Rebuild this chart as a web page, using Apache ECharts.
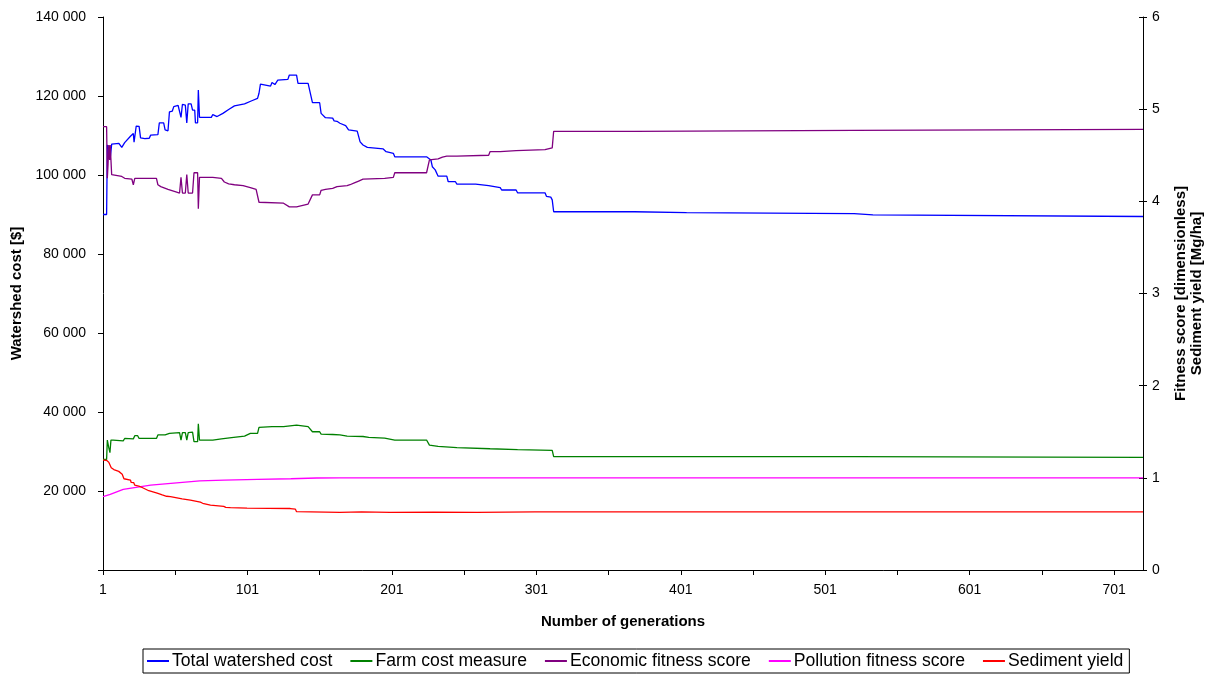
<!DOCTYPE html>
<html>
<head>
<meta charset="utf-8">
<title>Watershed optimisation by generation</title>
<script src="https://cdn.jsdelivr.net/npm/echarts@6/dist/echarts.min.js"></script>
<style>
  html, body { margin: 0; padding: 0; background: #fff; }
  #chart { width: 1213px; height: 675px; }
</style>
</head>
<body>
<div id="chart"></div>
<script>
// Generation axis ticks
const xTickValues = [1, 51, 101, 151, 201, 251, 301, 351, 401, 451, 501, 551, 601, 651, 701];
const xLabelValues = [1, 101, 201, 301, 401, 501, 601, 701];

// Series: [generation, value]
// Total watershed cost [$] (left axis)
const totalWatershedCost = [
  [1, 90000], [3.5, 90000], [4, 107600], [5, 106500], [6, 104200], [7, 107800], [12, 108000],
  [14, 107000], [16, 108200], [20, 109800], [22, 110500], [22.5, 108300], [24, 112400], [26, 112300],
  [27, 109400], [30, 109200], [33, 109300], [34, 110100], [39, 110200], [40, 113200], [43, 113200],
  [44, 111400], [46, 111200], [47, 116000], [49, 116200], [50, 117300], [53, 117600], [54, 117800],
  [55, 114600], [56, 117900], [58, 117700], [59, 113200], [60, 118000], [62, 118000], [63, 116400],
  [64.5, 116400], [65, 113200], [66.5, 113200], [67, 121500], [67.8, 114600], [76, 114600],
  [77, 115300], [78, 114800], [80, 114800], [84, 115600], [88, 116600], [92, 117500], [99, 118000],
  [104, 118800], [108, 119400], [109, 120700], [110, 123000], [111, 122500], [117, 122500],
  [118, 123400], [120, 122900], [122, 124000], [129, 124200], [130, 125300], [135, 125300],
  [136, 123200], [143, 123200], [144, 122800], [146, 118300], [151, 118300], [152, 115600],
  [155, 114500], [160, 114400], [161, 113700], [163, 113600], [165, 113100], [169, 112500],
  [171, 111400], [177, 111100], [179, 108400], [181, 107600], [184, 107000], [185, 106800],
  [195, 106600], [197, 105900], [202, 105500], [203, 104600], [225, 104600], [226, 104300],
  [228, 103800], [229, 102100], [231, 101300], [233, 99700], [239, 99700], [240, 98300],
  [245, 98300], [246, 97700], [259, 97700], [260, 97300], [268, 97300], [269, 96800], [276, 96800],
  [277, 96200], [287, 96200], [288, 95500], [307, 95500], [308, 94600], [311, 94400], [312, 93700],
  [313, 90700], [369, 90700], [370, 90500], [405, 90500], [406, 90200], [521, 90200], [522, 89900],
  [534, 89900], [535, 89500], [721, 89500]
];

// Farm cost measure [$] (left axis)
const farmCostMeasure = [
  [1, 28000], [3.5, 28000], [4, 32900], [5, 31000], [5.8, 29700], [6.5, 32900], [8, 32900],
  [9, 32700], [15, 32700], [16, 33300], [22, 33200], [23, 34000], [25, 34000], [26, 33300],
  [38, 33300], [39, 34200], [44, 34200], [47, 34600], [54, 34800], [55, 32900], [56, 34800],
  [58, 34800], [59, 32900], [60, 34800], [63, 34900], [64, 32500], [66.5, 32500], [67, 37000],
  [67.8, 32900], [77, 32900], [77.5, 33200], [78, 32900], [83, 33200], [90, 33500], [99, 33900],
  [103, 34600], [108, 34600], [109, 36100], [118, 36300], [126, 36300], [127, 36700], [135, 36700],
  [136, 36300], [143, 36300], [144, 35900], [146, 35000], [151, 35000], [152, 34400], [160, 34300],
  [165, 34200], [170, 33900], [181, 33800], [185, 33600], [196, 33400], [203, 32900], [225, 32900],
  [227, 31600], [233, 31300], [246, 31000], [269, 30700], [288, 30500], [312, 30300], [313, 28700],
  [521, 28700], [522, 28500], [721, 28500]
];

// Economic fitness score [dimensionless] (right axis)
const economicFitnessScore = [
  [1, 4.81], [3.5, 4.81], [4, 4.25], [4.5, 4.40], [5, 4.61], [5.6, 4.45], [6, 4.61], [6.6, 4.61],
  [7, 4.29], [14, 4.27], [16, 4.25], [21, 4.24], [22, 4.18], [23, 4.25], [26, 4.25], [38, 4.25],
  [39, 4.18], [41, 4.16], [46, 4.13], [52, 4.10], [54, 4.09], [55, 4.26], [56, 4.09], [58, 4.09],
  [59, 4.29], [60, 4.09], [63, 4.09], [64, 4.31], [66.5, 4.31], [67, 3.92], [67.8, 4.26], [77, 4.26],
  [78, 4.25], [83, 4.25], [85, 4.21], [88, 4.19], [92, 4.18], [98, 4.17], [103, 4.15], [107, 4.13],
  [108, 4.12], [109, 3.99], [126, 3.98], [127, 3.96], [130, 3.94], [135, 3.94], [136, 3.96],
  [143, 3.97], [144, 3.99], [146, 4.07], [151, 4.07], [152, 4.12], [155, 4.13], [160, 4.14],
  [163, 4.16], [170, 4.17], [172, 4.18], [175, 4.20], [178, 4.22], [181, 4.24], [196, 4.25],
  [197, 4.26], [202, 4.26], [203, 4.31], [225, 4.31], [227, 4.45], [233, 4.46], [236, 4.48],
  [239, 4.49], [246, 4.49], [247, 4.50], [268, 4.50], [269, 4.54], [276, 4.54], [277, 4.55],
  [287, 4.55], [288, 4.56], [307, 4.56], [308, 4.58], [312, 4.58], [313, 4.76], [369, 4.76],
  [370, 4.77], [521, 4.77], [522, 4.78], [721, 4.78]
];

// Pollution fitness score [dimensionless] (right axis)
const pollutionFitnessScore = [
  [1, 0.795], [6, 0.82], [15, 0.875], [25, 0.90], [34, 0.92], [48, 0.94], [68, 0.966], [85, 0.976],
  [108, 0.984], [131, 0.99], [149, 0.998], [165, 1.0], [721, 1.0]
];

// Sediment yield [Mg/ha] (right axis)
const sedimentYield = [
  [1, 1.193], [3.4, 1.19], [5, 1.17], [6.2, 1.16], [6.7, 1.11], [8.5, 1.09], [11.9, 1.07],
  [12.5, 1.056], [14.3, 1.04], [15.5, 0.99], [16.6, 0.976], [20, 0.976], [20.5, 0.95], [22.3, 0.947],
  [23, 0.92], [25.8, 0.911], [26.5, 0.897], [28.1, 0.895], [29, 0.875], [32.7, 0.86], [33.5, 0.84],
  [38.5, 0.835], [39.5, 0.825], [42, 0.814], [45, 0.80], [47.7, 0.795], [48.5, 0.778], [55.8, 0.772],
  [57, 0.763], [61.5, 0.758], [62.5, 0.741], [68.4, 0.736], [70, 0.724], [75.4, 0.705], [76.5, 0.694],
  [84.6, 0.69], [86, 0.68], [89.2, 0.676], [100.7, 0.672], [102, 0.669], [130.7, 0.667], [134.2, 0.66],
  [135, 0.633], [165, 0.626], [180, 0.63], [200, 0.625], [230, 0.628], [260, 0.626], [300, 0.63],
  [721, 0.63]
];

const FONT = 'Liberation Sans, Arial, sans-serif';
const thousands = v => String(v).replace(/\B(?=(\d{3})+(?!\d))/g, ' ');

const chart = echarts.init(document.getElementById('chart'), null, { renderer: 'canvas' });

const lineSeries = (name, data, color, yAxisIndex) => ({
  name, type: 'line', data, yAxisIndex,
  symbol: 'none', smooth: false, animation: false,
  lineStyle: { color, width: 1.3 },
  itemStyle: { color }
});

chart.setOption({
  animation: false,
  backgroundColor: '#fff',
  grid: { left: 103, right: 70, top: 17, bottom: 105, containLabel: false },
  legend: {
    left: 143, top: 649,
    padding: [3, 6, 3, 4],
    itemGap: 18, itemWidth: 22, itemHeight: 2,
    icon: 'rect',
    borderColor: '#000', borderWidth: 1,
    textStyle: { fontFamily: FONT, fontSize: 17.6, color: '#000', padding: [0, 0, 0, -2] },
    data: ['Total watershed cost', 'Farm cost measure', 'Economic fitness score',
           'Pollution fitness score', 'Sediment yield']
  },
  xAxis: {
    type: 'value', min: 1, max: 721,
    name: 'Number of generations', nameLocation: 'middle', nameGap: 44,
    nameTextStyle: { fontFamily: FONT, fontSize: 15, fontWeight: 'bold', color: '#000' },
    axisLine: { show: true, onZero: false, lineStyle: { color: '#000', width: 1 } },
    axisTick: { show: true, inside: false, length: 5, customValues: xTickValues,
                lineStyle: { color: '#000' } },
    axisLabel: { show: true, customValues: xLabelValues, margin: 13,
                 fontFamily: FONT, fontSize: 14, color: '#000' },
    splitLine: { show: false }
  },
  yAxis: [
    {
      type: 'value', position: 'left', min: 0, max: 140000, interval: 20000,
      name: 'Watershed cost [$]', nameLocation: 'middle', nameGap: 77, nameRotate: 90,
      nameTextStyle: { fontFamily: FONT, fontSize: 15, fontWeight: 'bold', color: '#000' },
      axisLine: { show: true, lineStyle: { color: '#000', width: 1 } },
      axisTick: { show: true, inside: false, length: 5, lineStyle: { color: '#000' } },
      axisLabel: { margin: 17, fontFamily: FONT, fontSize: 14, color: '#000',
                   formatter: v => (v === 0 ? '' : thousands(v)) },
      splitLine: { show: false }
    },
    {
      type: 'value', position: 'right', min: 0, max: 6, interval: 1,
      name: 'Fitness score [dimensionless]\nSediment yield [Mg/ha]',
      nameLocation: 'middle', nameGap: 30, nameRotate: 90,
      nameTextStyle: { fontFamily: FONT, fontSize: 15, fontWeight: 'bold', color: '#000',
                       lineHeight: 16, align: 'center' },
      axisLine: { show: true, lineStyle: { color: '#000', width: 1 } },
      axisTick: { show: true, inside: false, length: 4, lineStyle: { color: '#000' } },
      axisLabel: { margin: 9, fontFamily: FONT, fontSize: 14, color: '#000' },
      splitLine: { show: false }
    },
    {
      // inner half of the cross ticks on the right axis
      type: 'value', position: 'right', min: 0, max: 6, interval: 1,
      axisLine: { show: false },
      axisTick: { show: true, inside: true, length: 4, lineStyle: { color: '#000' } },
      axisLabel: { show: false },
      splitLine: { show: false }
    }
  ],
  series: [
    lineSeries('Total watershed cost', totalWatershedCost, '#0000ff', 0),
    lineSeries('Farm cost measure', farmCostMeasure, '#008000', 0),
    lineSeries('Economic fitness score', economicFitnessScore, '#800080', 1),
    lineSeries('Pollution fitness score', pollutionFitnessScore, '#ff00ff', 1),
    lineSeries('Sediment yield', sedimentYield, '#ff0000', 1)
  ]
});
</script>
</body>
</html>
